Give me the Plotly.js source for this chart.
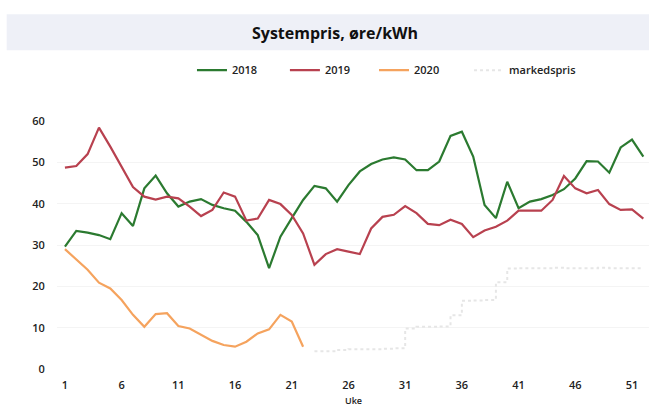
<!DOCTYPE html>
<html>
<head>
<meta charset="utf-8">
<script src="https://cdn.plot.ly/plotly-3.0.1.min.js"></script>
<style>html,body{margin:0;padding:0;background:#fff;}#chart{width:649px;height:408px;}</style>
</head>
<body>
<div id="chart"></div>
<script>
const weeks = Array.from({length: 52}, (_, i) => i + 1);
const y2018 = [29.6,33.4,33.0,32.4,31.4,37.7,34.6,43.7,46.8,42.5,39.3,40.5,41.1,39.7,38.9,38.3,35.6,32.4,24.4,32.0,36.5,40.9,44.3,43.7,40.5,44.5,47.8,49.6,50.7,51.2,50.7,48.1,48.1,50.2,56.4,57.4,51.4,39.7,36.5,45.3,38.9,40.5,41.1,42.1,43.5,46.1,50.3,50.2,47.5,53.6,55.5,51.4];
const y2019 = [48.7,49.1,52.0,58.4,53.8,48.9,44.0,41.7,41.0,41.7,41.3,39.3,37.0,38.5,42.7,41.7,35.9,36.4,40.9,39.9,37.3,32.8,25.2,27.8,29.0,28.4,27.8,34.0,36.8,37.3,39.4,37.7,35.1,34.8,36.1,35.1,31.9,33.5,34.4,35.9,38.3,38.3,38.3,40.9,46.7,43.7,42.5,43.3,39.9,38.5,38.6,36.4];
const weeks2020 = Array.from({length: 22}, (_, i) => i + 1);
const y2020 = [29.0,26.5,24.0,20.9,19.5,16.7,13.1,10.2,13.3,13.5,10.4,9.8,8.2,6.8,5.8,5.4,6.6,8.6,9.6,13.1,11.5,5.4];
const weeksMarked = Array.from({length: 30}, (_, i) => i + 23);
const yMarked = [4.3,4.3,4.6,4.8,4.8,4.8,4.9,5.0,9.8,10.2,10.2,10.3,13.0,16.5,16.6,16.7,21.0,24.3,24.4,24.4,24.4,24.5,24.4,24.4,24.4,24.5,24.4,24.4,24.4,24.4];
const tickWeeks = [1,6,11,16,21,26,31,36,41,46,51];
const yTicks = [0,10,20,30,40,50,60];

const font = "Open Sans, Liberation Sans, Arial, sans-serif";
const legFont = {family: font, size: 11, color: "#222", weight: 600};
const traces = [
  {x: weeks, y: y2018, name: "2018", mode: "lines", legend: "legend", line: {color: "#2b7a30", width: 2.2}},
  {x: weeks, y: y2019, name: "2019", mode: "lines", legend: "legend2", line: {color: "#b8414f", width: 2.2}},
  {x: weeks2020, y: y2020, name: "2020", mode: "lines", legend: "legend3", line: {color: "#f5a35e", width: 2.2}},
  {x: weeksMarked, y: yMarked, name: "markedspris", mode: "lines", legend: "legend4", line: {color: "#e6e6e6", width: 2, dash: "dot", shape: "hv"}}
];
function leg(x) {
  return {orientation: "h", x: x, xanchor: "left", y: 1.205, yanchor: "middle",
    font: legFont, bgcolor: "rgba(0,0,0,0)", itemwidth: 30};
}
const layout = {
  width: 649, height: 408,
  paper_bgcolor: "#ffffff", plot_bgcolor: "#ffffff",
  margin: {l: 57, r: 0, t: 121, b: 39},
  showlegend: true,
  legend: leg(0.228), legend2: leg(0.385), legend3: leg(0.5355), legend4: leg(0.696),
  xaxis: {range: [0.3, 52.5], tickvals: tickWeeks, ticktext: tickWeeks.map(String),
    showgrid: false, zeroline: false, showline: false,
    ticks: "outside", ticklen: 6, tickcolor: "rgba(0,0,0,0)",
    tickfont: {family: font, size: 11, color: "#222", weight: 600}},
  yaxis: {range: [0, 60], tickvals: yTicks, ticktext: yTicks.map(String),
    showgrid: true, gridcolor: "#f4f4f4", zeroline: false, showline: false,
    ticks: "outside", ticklen: 9, tickcolor: "rgba(0,0,0,0)",
    tickfont: {family: font, size: 11, color: "#222", weight: 600}},
  shapes: [
    {type: "rect", xref: "paper", yref: "paper", x0: -0.085, x1: 1.0, y0: 1.285, y1: 1.43,
     fillcolor: "#eef0f7", line: {width: 0}, layer: "below"}
  ],
  annotations: [
    {text: "<b>Systempris, øre/kWh</b>", xref: "paper", yref: "paper", x: 0.47, y: 1.355,
     xanchor: "center", yanchor: "middle", showarrow: false,
     font: {family: font, size: 16, color: "#111"}},
    {text: "Uke", xref: "paper", yref: "paper", x: 0.5, y: -0.125, xanchor: "center", yanchor: "middle",
     showarrow: false, font: {family: font, size: 9, color: "#222", weight: 600}}
  ]
};
Plotly.newPlot("chart", traces, layout, {displayModeBar: false, staticPlot: true});
</script>
</body>
</html>
